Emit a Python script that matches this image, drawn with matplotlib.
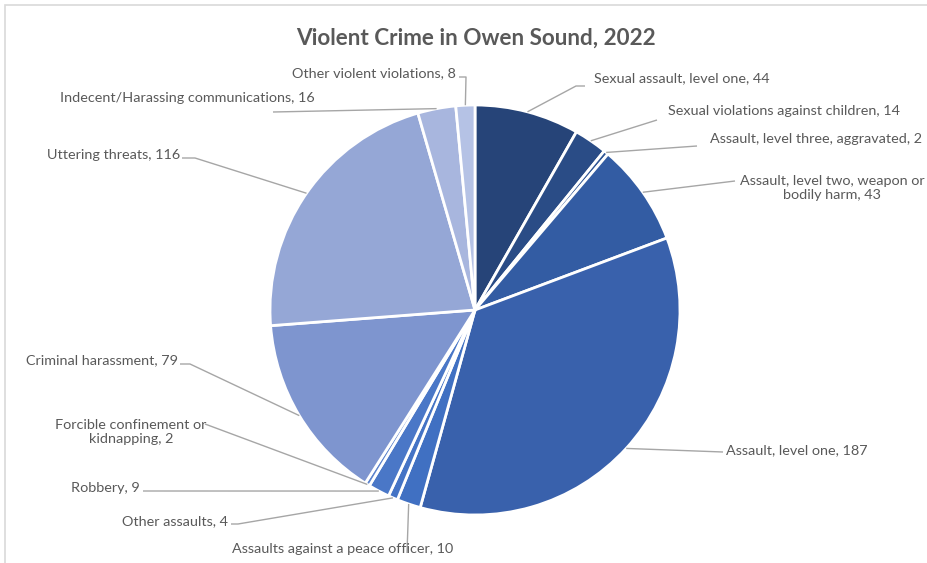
''' Violent crime in Owen Sound 2022 - pie chart with leader lines '''
import matplotlib.pyplot as plt
from matplotlib.patches import Rectangle
import numpy as np

# data
categories = ['Sexual assault, level one', 'Sexual violations against children',
              'Assault, level three, aggravated', 'Assault, level two, weapon or\nbodily harm',
              'Assault, level one', 'Assaults against a peace officer', 'Other assaults',
              'Robbery', 'Forcible confinement or\nkidnapping', 'Criminal harassment',
              'Uttering threats', 'Indecent/Harassing communications', 'Other violent violations']
counts = [44, 14, 2, 43, 187, 10, 4, 9, 2, 79, 116, 16, 8]

colors = ['#264478', '#2a4c86', '#2e5494', '#335ca3', '#3961ac', '#4070c2', '#4473c5',
          '#4a77c7', '#5b82cc', '#7e95cf', '#95a7d6', '#a8b6de', '#b5c2e5']

W, H = 928, 563
def fy(y):
    # flip pixel y to axes y
    return H - y

# label layout in pixels: text x, text y, alignment, leader points (from text side toward pie)
label_layout = [
    (594, 78, 'left', [(585, 86), (576, 86)]),
    (668, 111, 'left', [(657, 120)]),
    (710, 139, 'left', [(697, 146)]),
    (832, 188, 'center', [(735, 181)]),
    (726, 450, 'left', [(723, 452)]),
    (343, 549, 'center', [(407, 553)]),
    (228, 521, 'right', [(231, 524), (238, 524)]),
    (140, 488, 'right', [(143, 491)]),
    (131, 432, 'center', [(205, 424)]),
    (178, 360, 'right', [(180, 364), (190, 364)]),
    (180, 155, 'right', [(182, 158), (195, 158)]),
    (315, 98, 'right', [(273, 112)]),
    (456, 73, 'right', [(459, 77), (466, 77)]),
]

plt.rcParams['font.family'] = ['Lato', 'DejaVu Sans']
fig = plt.figure(figsize=(W / 100, H / 100), dpi=100)
ax = fig.add_axes([0, 0, 1, 1])

cx, cy, r = 475, fy(310), 205
wedges, _ = ax.pie(counts, colors=colors, startangle=90, counterclock=False,
                   center=(cx, cy), radius=r,
                   wedgeprops=dict(edgecolor='white', linewidth=2))
ax.set_xlim(0, W)
ax.set_ylim(0, H)
ax.set_aspect('equal')
ax.axis('off')

# chart border
ax.add_patch(Rectangle((5, fy(563 + 5)), W, H, fill=False, edgecolor='#d9d9d9', lw=1.2))

txt = '#595959'
line_c = '#a6a6a6'
for w, name, n, (tx, ty, ha, pts) in zip(wedges, categories, counts, label_layout):
    mid = np.deg2rad((w.theta1 + w.theta2) / 2)
    sx, sy = cx + r * np.cos(mid), cy + r * np.sin(mid)
    xs = [p[0] for p in pts][::-1]
    ys = [fy(p[1]) for p in pts][::-1]
    ax.plot([sx] + xs, [sy] + ys, color=line_c, lw=1, solid_capstyle='butt')
    ax.text(tx, fy(ty), f'{name}, {n}', ha=ha, va='center', fontsize=10.4,
            color=txt, multialignment='center', linespacing=1.2)

ax.text(476, fy(38), 'Violent Crime in Owen Sound, 2022', ha='center', va='center',
        fontsize=16.2, color=txt, fontweight='bold')

plt.savefig('out.png', dpi=100)
